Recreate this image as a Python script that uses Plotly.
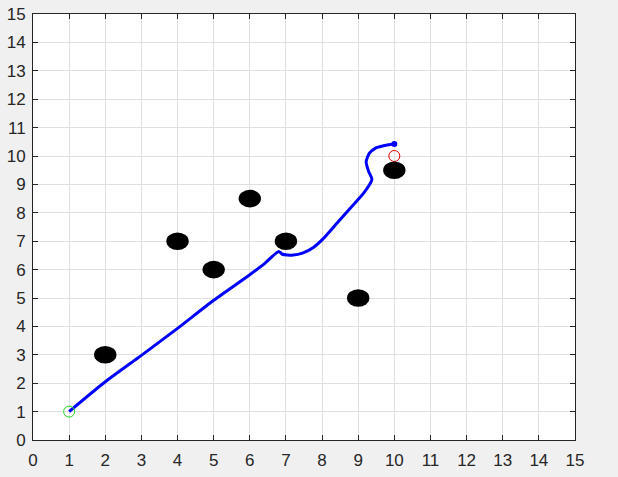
import plotly.graph_objects as go

# path of the robot
path_x = [1.0, 2.0, 3.0, 4.0, 5.0, 6.0, 6.4, 6.8, 6.9, 7.2, 7.49, 7.76, 8.04,
          8.41, 8.78, 9.15, 9.38, 9.29, 9.22, 9.31, 9.47, 9.7, 10.0]
path_y = [1.0, 2.05, 2.98, 3.93, 4.92, 5.82, 6.2, 6.64, 6.54, 6.51, 6.6, 6.78, 7.1,
          7.63, 8.16, 8.69, 9.18, 9.45, 9.8, 10.1, 10.27, 10.36, 10.42]

start_x, start_y = [1], [1]
goal_x, goal_y = [10], [10]

# obstacles
obs_x = [2, 4, 5, 6, 7, 9, 10]
obs_y = [3, 7, 6, 8.5, 7, 5, 9.5]
obs_r = 0.31

AXIS_COLOR = "#262626"
FONT = dict(family="Liberation Sans, Arial, sans-serif", size=17, color=AXIS_COLOR)

fig = go.Figure()

fig.add_trace(go.Scatter(
    x=path_x, y=path_y,
    mode="lines",
    line=dict(color="#0000ff", width=3, shape="spline", smoothing=0.6),
    showlegend=False,
))
fig.add_trace(go.Scatter(
    x=path_x[-1:], y=path_y[-1:],
    mode="markers",
    marker=dict(color="#0000ff", size=6),
    showlegend=False,
))
fig.add_trace(go.Scatter(
    x=start_x, y=start_y,
    mode="markers",
    marker=dict(symbol="circle-open", color="#22dd22", size=11, line=dict(width=1)),
    showlegend=False,
))
fig.add_trace(go.Scatter(
    x=goal_x, y=goal_y,
    mode="markers",
    marker=dict(symbol="circle-open", color="#dd0000", size=11, line=dict(width=1)),
    showlegend=False,
))

for cx, cy in zip(obs_x, obs_y):
    fig.add_shape(
        type="circle", xref="x", yref="y",
        x0=cx - obs_r, x1=cx + obs_r, y0=cy - obs_r, y1=cy + obs_r,
        fillcolor="black", line=dict(color="black", width=0),
    )

axis_style = dict(
    range=[0, 15],
    dtick=1,
    tick0=0,
    showgrid=True,
    gridcolor="#dfdfdf",
    gridwidth=1,
    zeroline=False,
    showline=True,
    linecolor=AXIS_COLOR,
    linewidth=1,
    mirror="ticks",
    ticks="inside",
    ticklen=5,
    tickcolor=AXIS_COLOR,
    tickfont=FONT,
    automargin=False,
    fixedrange=True,
)

fig.update_xaxes(**axis_style, ticklabelstandoff=5)
fig.update_yaxes(**axis_style, ticklabelstandoff=3)

fig.update_layout(
    width=618,
    height=477,
    autosize=False,
    paper_bgcolor="#f0f0f0",
    plot_bgcolor="white",
    margin=dict(l=33, r=43, t=14, b=37, autoexpand=False),
    font=FONT,
)

# drop the page's default body margin so the figure fills the window
fig.write_html(
    "out.html",
    config={"displayModeBar": False},
    post_script="document.body.style.margin='0';document.body.style.background='#f0f0f0';"
                "document.body.style.overflow='hidden';",
)
